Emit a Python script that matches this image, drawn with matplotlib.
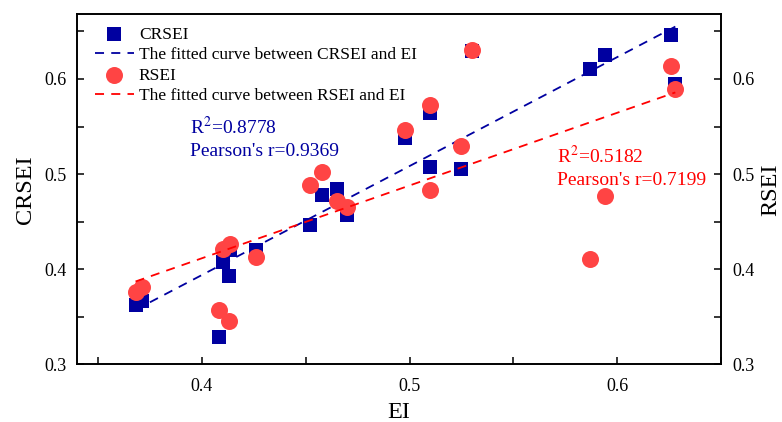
import numpy as np
import matplotlib.pyplot as plt
from matplotlib.ticker import MultipleLocator

plt.rcParams['font.family'] = ['Liberation Serif', 'DejaVu Serif']
plt.rcParams['mathtext.fontset'] = 'stix'

ei = [0.368, 0.371, 0.408, 0.410, 0.413, 0.4135, 0.426, 0.452, 0.458, 0.465,
      0.470, 0.498, 0.510, 0.510, 0.525, 0.530, 0.587, 0.594, 0.626, 0.628]
crsei = [0.362, 0.366, 0.329, 0.408, 0.393, 0.420, 0.420, 0.446, 0.478, 0.484,
         0.457, 0.538, 0.564, 0.507, 0.505, 0.629, 0.610, 0.625, 0.646, 0.595]
rsei = [0.376, 0.381, 0.357, 0.421, 0.345, 0.426, 0.413, 0.489, 0.502, 0.472,
        0.465, 0.546, 0.573, 0.483, 0.530, 0.631, 0.411, 0.477, 0.614, 0.589]

BLUE = '#0000a0'
RED = '#ff4444'


def main():
    x = np.array(ei)
    fig, ax = plt.subplots()
    fig.set_size_inches(7.82, 4.22)
    fig.subplots_adjust(left=0.099, right=0.922, top=0.966, bottom=0.137)
    ax2 = ax.twinx()

    xs = np.linspace(x.min(), x.max(), 50)
    kb = np.polyfit(x, crsei, 1)
    kr = np.polyfit(x, rsei, 1)

    sq = ax.scatter(x, crsei, marker='s', s=105, color=BLUE, zorder=2, linewidths=0)
    lb, = ax.plot(xs, np.polyval(kb, xs), color=BLUE, ls=(0, (5, 4)), lw=1.3, zorder=3)
    ci = ax2.scatter(x, rsei, marker='o', s=150, color=RED, zorder=2, linewidths=0)
    lr, = ax2.plot(xs, np.polyval(kr, xs), color='#ff0000', ls=(0, (5, 4)), lw=1.3, zorder=3)

    for a in (ax, ax2):
        a.set_xlim(0.34, 0.65)
        a.set_ylim(0.3, 0.668)
        a.yaxis.set_major_locator(MultipleLocator(0.1))
        a.yaxis.set_minor_locator(MultipleLocator(0.05))
        a.tick_params(which='both', direction='in', labelsize=13, width=1.1)
        a.tick_params(which='major', length=5)
        a.tick_params(which='minor', length=5)
        a.tick_params(axis='y', which='both', pad=8)
        for s in a.spines.values():
            s.set_linewidth(1.2)
    ax.xaxis.set_major_locator(MultipleLocator(0.1))
    ax.xaxis.set_minor_locator(MultipleLocator(0.05))
    ax.tick_params(axis='x', which='both', pad=10)
    ax.set_yticks([0.3, 0.4, 0.5, 0.6])
    ax2.set_yticks([0.3, 0.4, 0.5, 0.6])
    ax.set_yticklabels(['0.3', '0.4', '0.5', '0.6'])
    ax2.set_yticklabels(['0.3', '0.4', '0.5', '0.6'])

    ax.set_xlabel('EI', fontsize=17.5, labelpad=5)
    ax.set_ylabel('CRSEI', fontsize=17.5, labelpad=6)
    ax2.set_ylabel('RSEI', fontsize=17.5, labelpad=4)

    ax2.legend([sq, lb, ci, lr],
               ['CRSEI', 'The fitted curve between CRSEI and EI',
                'RSEI', 'The fitted curve between RSEI and EI'],
               loc='upper left', frameon=False, fontsize=12.5,
               handlelength=2.2, handletextpad=0.3, labelspacing=0.25,
               borderaxespad=0.3, bbox_to_anchor=(0.009, 1.0))

    ax2.text(0.394, 0.549, 'R$^2$=0.8778', fontsize=14, color=BLUE, va='center')
    ax2.text(0.394, 0.524, "Pearson's r=0.9369", fontsize=14, color=BLUE, va='center')
    ax2.text(0.571, 0.5186, 'R$^2$=0.5182', fontsize=14, color='#ff0000', va='center')
    ax2.text(0.571, 0.493, "Pearson's r=0.7199", fontsize=14, color='#ff0000', va='center')

    plt.savefig('out.png', dpi=100)


if __name__ == '__main__':
    main()
